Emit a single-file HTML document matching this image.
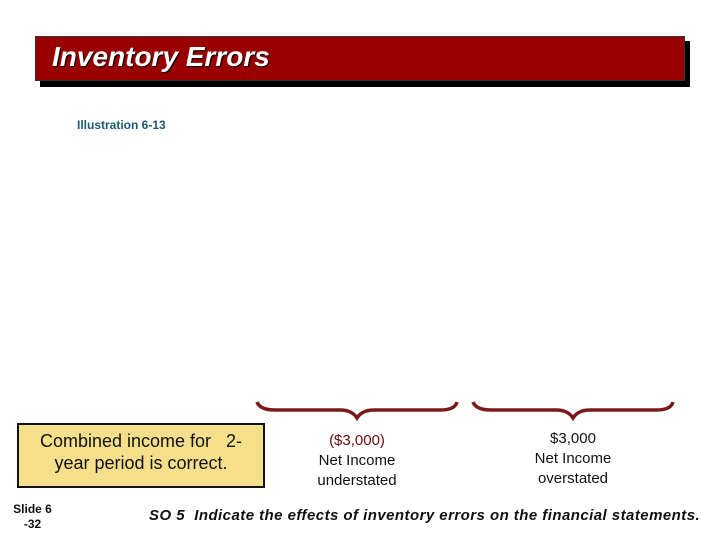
<!DOCTYPE html>
<html><head><meta charset="utf-8"><style>
body{margin:0;width:720px;height:540px;background:#fff;position:relative;overflow:hidden;font-family:"Liberation Sans",sans-serif}
.a{position:absolute}
</style></head><body>
<div class="a" style="left:40px;top:41px;width:650px;height:46px;background:#000"></div>
<div class="a" style="left:35px;top:36px;width:648px;height:43px;background:#990000;border:1px solid #333"></div>
<div class="a" style="left:52px;top:41px;font-size:28px;font-style:italic;font-weight:bold;color:#fff;text-shadow:1px 1px 1px #000">Inventory Errors</div>
<div class="a" style="left:77px;top:118px;font-size:12px;font-weight:bold;color:#1a5a6e">Illustration 6-13</div>
<svg class="a" style="left:0;top:0" width="720" height="540">
<path d="M257 402 Q260 410 275 410 L340 410 Q352 410 357 418 Q362 410 374 410 L440 410 Q455 410 457 402" fill="none" stroke="#7a1a1a" stroke-width="3.5"/>
<path d="M473 402 Q476 410 491 410 L556 410 Q568 410 573 418 Q578 410 590 410 L656 410 Q671 410 673 402" fill="none" stroke="#7a1a1a" stroke-width="3.5"/>
</svg>
<div class="a" style="left:17px;top:423px;width:244px;height:56px;background:#f5df8a;border:2.5px solid #111;font-size:18px;color:#111;text-align:center;line-height:22px;padding-top:5px">Combined income for &nbsp;&nbsp;2-<br>year period is correct.</div>
<div class="a" style="left:287px;top:431px;width:140px;text-align:center;font-size:15px;line-height:20px;color:#111"><span style="color:#6a0a0a">($3,000)</span><br>Net Income<br>understated</div>
<div class="a" style="left:503px;top:429px;width:140px;text-align:center;font-size:15px;line-height:20px;color:#111">$3,000<br>Net Income<br>overstated</div>
<div class="a" style="left:10px;top:502px;width:45px;text-align:center;font-size:12px;font-weight:bold;line-height:15px;color:#111">Slide 6<br>-32</div>
<div class="a" style="left:149px;top:507px;font-size:15px;font-weight:bold;font-style:italic;color:#111;white-space:nowrap;letter-spacing:0.45px">SO 5&nbsp; Indicate the effects of inventory errors on the financial statements.</div>
</body></html>
